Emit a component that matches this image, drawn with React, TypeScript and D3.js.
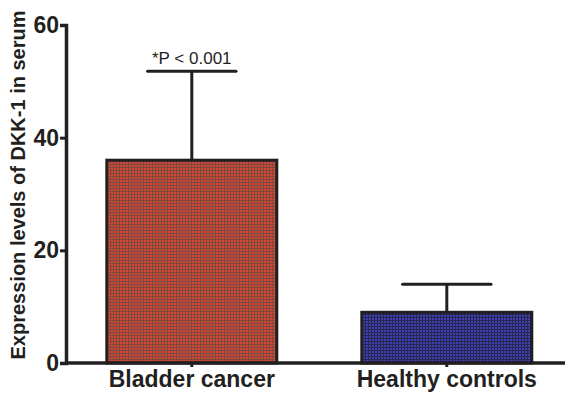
import { useEffect, useRef } from 'react'
import * as d3 from 'd3'

const categories = ['Bladder cancer', 'Healthy controls']
const means = [36, 9]
const errors = [15.8, 5]
const yTicks = [0, 20, 40, 60]
const annotation = '*P < 0.001'

export default function App() {
  const svgRef = useRef<SVGSVGElement>(null)

  useEffect(() => {
    if (!svgRef.current) return
    const svg = d3.select(svgRef.current)
    svg.selectAll('*').remove()

    const width = 565
    const height = 393
    const axisX = 66
    const yTop = 25
    const yBottom = 363
    const font = 'Liberation Sans, Arial, sans-serif'

    // dotted grid textures like the original print
    const defs = svg.append('defs')
    const makePattern = (id: string, base: string, grid: string) => {
      const p = defs
        .append('pattern')
        .attr('id', id)
        .attr('width', 3)
        .attr('height', 3)
        .attr('patternUnits', 'userSpaceOnUse')
      p.append('rect').attr('width', 3).attr('height', 3).attr('fill', grid)
      p.append('rect').attr('width', 2).attr('height', 2).attr('fill', base)
    }
    makePattern('redFill', '#d84532', '#7c4a40')
    makePattern('blueFill', '#3f3fb5', '#26264e')

    const fills = ['url(#redFill)', 'url(#blueFill)']

    const x = d3
      .scaleBand()
      .domain(categories)
      .range([axisX, 572.6])
      .paddingInner(1 / 3)
      .paddingOuter(0.16)

    const y = d3.scaleLinear().domain([0, 60]).range([yBottom, yTop])

    // Error bars (drawn behind bars)
    categories.forEach((c, i) => {
      const cx = (x(c) as number) + x.bandwidth() / 2
      svg
        .append('line')
        .attr('x1', cx)
        .attr('x2', cx)
        .attr('y1', y(means[i]))
        .attr('y2', y(means[i] + errors[i]))
        .attr('stroke', '#231f20')
        .attr('stroke-width', 3)
      svg
        .append('line')
        .attr('x1', cx - x.bandwidth() * 0.26)
        .attr('x2', cx + x.bandwidth() * 0.26)
        .attr('y1', y(means[i] + errors[i]))
        .attr('y2', y(means[i] + errors[i]))
        .attr('stroke', '#231f20')
        .attr('stroke-width', 3)
        .attr('stroke-linecap', 'round')
    })

    // Bars
    svg
      .selectAll('rect.bar')
      .data(categories)
      .enter()
      .append('rect')
      .attr('class', 'bar')
      .attr('x', (d) => x(d) as number)
      .attr('y', (_d, i) => y(means[i]))
      .attr('width', x.bandwidth())
      .attr('height', (_d, i) => yBottom - y(means[i]))
      .attr('fill', (_d, i) => fills[i])
      .attr('stroke', '#231f20')
      .attr('stroke-width', 3)

    // Y axis
    const yAxis = svg
      .append('g')
      .attr('transform', `translate(${axisX},0)`)
      .call(d3.axisLeft(y).tickValues(yTicks).tickSize(6).tickPadding(1).tickFormat(d3.format('d')))
    yAxis.select('.domain').attr('stroke', '#231f20').attr('stroke-width', 3.5)
    yAxis.selectAll('.tick line').attr('stroke', '#231f20').attr('stroke-width', 3)
    yAxis
      .selectAll('.tick text')
      .attr('fill', '#231f20')
      .attr('font-family', font)
      .attr('font-weight', 'bold')
      .attr('font-size', '23px')

    // X axis
    const xAxis = svg
      .append('g')
      .attr('transform', `translate(0,${yBottom})`)
      .call(d3.axisBottom(x).tickSize(4).tickPadding(4).tickSizeOuter(0))
    xAxis
      .select('.domain')
      .attr('d', `M${axisX},0H${width}`)
      .attr('stroke', '#231f20')
      .attr('stroke-width', 3.5)
    xAxis.selectAll('.tick line').attr('stroke', '#231f20').attr('stroke-width', 3)
    xAxis
      .selectAll('.tick text')
      .attr('fill', '#231f20')
      .attr('font-family', font)
      .attr('font-weight', 'bold')
      .attr('font-size', '23px')

    // Y label
    svg
      .append('text')
      .attr('transform', `translate(25,${(yTop + yBottom) / 2 - 9}) rotate(-90)`)
      .attr('text-anchor', 'middle')
      .attr('fill', '#231f20')
      .attr('font-family', font)
      .attr('font-weight', 'bold')
      .attr('font-size', '20px')
      .text('Expression levels of DKK-1 in serum')

    // Significance annotation
    const c0 = (x(categories[0]) as number) + x.bandwidth() / 2
    svg
      .append('text')
      .attr('x', c0)
      .attr('y', y(means[0] + errors[0]) - 7)
      .attr('text-anchor', 'middle')
      .attr('fill', '#231f20')
      .attr('font-family', font)
      .attr('font-size', '17px')
      .text(annotation)

    svg.attr('width', width).attr('height', height)
  }, [])

  return (
    <svg
      ref={svgRef}
      width={565}
      height={393}
      style={{ position: 'absolute', left: 0, top: 0, background: '#fff' }}
    />
  )
}
